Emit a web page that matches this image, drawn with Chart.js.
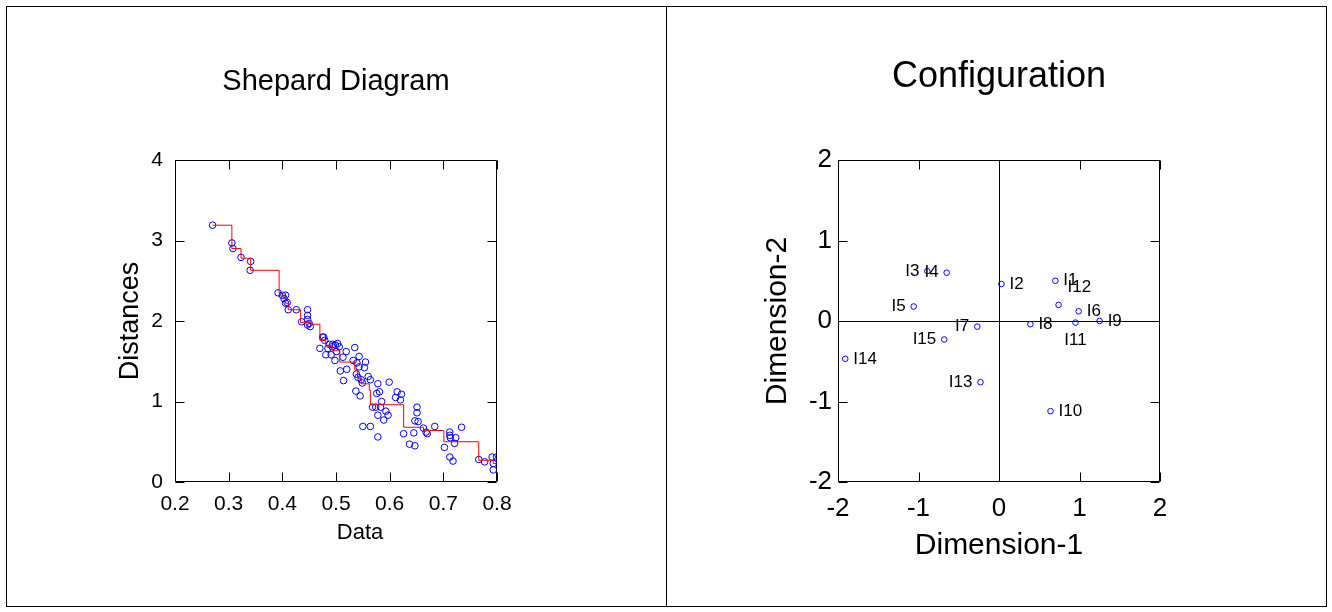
<!DOCTYPE html>
<html>
<head>
<meta charset="utf-8">
<script src="https://cdn.jsdelivr.net/npm/chart.js@4.4.1/dist/chart.umd.min.js"></script>
<style>
  html, body { margin: 0; padding: 0; background: #fff; }
  body { width: 1332px; height: 612px; position: relative; overflow: hidden; }
  canvas { position: absolute; top: 0; }
  #frame { position: absolute; left: 6px; top: 6px; width: 1321px; height: 601px; border: 1px solid #000; box-sizing: border-box; }
  #divider { position: absolute; left: 666px; top: 6px; width: 1px; height: 601px; background: #000; }
</style>
</head>
<body>
<canvas id="shepard" width="666" height="612" style="left:0"></canvas>
<canvas id="config" width="666" height="612" style="left:666px"></canvas>
<div id="frame"></div>
<div id="divider"></div>
<script>
// Shepard diagram: observed data vs. configuration distances
const shepardData = [
  0.270, 0.306, 0.308, 0.323, 0.340, 0.341, 0.392, 0.400, 0.403, 0.406,
  0.406, 0.409, 0.411, 0.426, 0.436, 0.447, 0.447, 0.447, 0.447, 0.450,
  0.452, 0.470, 0.475, 0.477, 0.479, 0.481, 0.485, 0.488, 0.491, 0.493,
  0.494, 0.499, 0.501, 0.498, 0.503, 0.506, 0.508, 0.513, 0.514, 0.519,
  0.520, 0.532, 0.535, 0.537, 0.538, 0.539, 0.541, 0.543, 0.543, 0.545,
  0.547, 0.549, 0.550, 0.553, 0.555, 0.560, 0.564, 0.564, 0.568, 0.574,
  0.576, 0.578, 0.578, 0.578, 0.581, 0.583, 0.585, 0.589, 0.593, 0.597,
  0.599, 0.611, 0.614, 0.620, 0.622, 0.626, 0.637, 0.645, 0.647, 0.647,
  0.651, 0.651, 0.653, 0.663, 0.668, 0.670, 0.684, 0.702, 0.712, 0.712,
  0.713, 0.712, 0.718, 0.721, 0.723, 0.734, 0.766, 0.777, 0.791, 0.793,
  0.799, 0.793
];
const shepardDist = [
  3.19, 2.97, 2.90, 2.79, 2.63, 2.74, 2.35, 2.32, 2.28, 2.32,
  2.22, 2.23, 2.14, 2.14, 1.99, 2.14, 2.07, 2.02, 1.95, 1.97,
  1.93, 1.66, 1.80, 1.80, 1.76, 1.58, 1.66, 1.71, 1.58, 1.68,
  1.71, 1.70, 1.62, 1.51, 1.72, 1.68, 1.38, 1.55, 1.26, 1.62,
  1.40, 1.51, 1.67, 1.13, 1.34, 1.48, 1.30, 1.56, 1.43, 1.07,
  1.27, 1.23, 0.69, 1.42, 1.49, 1.31, 1.27, 0.69, 0.93, 0.93,
  1.10, 1.22, 0.83, 0.56, 1.12, 0.93, 1.00, 0.77, 0.88, 0.83,
  1.24, 1.05, 1.12, 1.02, 1.09, 0.60, 0.47, 0.61, 0.45, 0.76,
  0.93, 0.86, 0.75, 0.67, 0.62, 0.60, 0.69, 0.43, 0.62, 0.58,
  0.55, 0.31, 0.26, 0.48, 0.55, 0.68, 0.28, 0.25, 0.31, 0.23,
  0.31, 0.15
];
// fitted (monotone) disparities, drawn as steps
const stepData = [0.270, 0.306, 0.323, 0.341, 0.394, 0.401, 0.406, 0.411, 0.434, 0.454, 0.470, 0.481, 0.494,
  0.507, 0.535, 0.540, 0.547, 0.562, 0.564, 0.626, 0.663, 0.701, 0.766, 0.793, 0.799];
const stepDist = [3.19, 2.90, 2.78, 2.63, 2.34, 2.31, 2.22, 2.14, 1.98, 1.96, 1.76, 1.69, 1.63,
  1.49, 1.39, 1.29, 1.22, 1.14, 0.96, 0.68, 0.64, 0.50, 0.27, 0.23, 0.23];
const shepardXTicks = [0.2, 0.3, 0.4, 0.5, 0.6, 0.7, 0.8];
const shepardYTicks = [0, 1, 2, 3, 4];

// Configuration: object coordinates
const objLabels = ['I1', 'I2', 'I3', 'I4', 'I5', 'I6', 'I7', 'I8', 'I9', 'I10', 'I11', 'I12', 'I13', 'I14', 'I15'];
const dim1 = [0.70, 0.03, -0.89, -0.65, -1.06, 0.99, -0.27, 0.39, 1.25, 0.64, 0.95, 0.74, -0.23, -1.91, -0.68];
const dim2 = [0.50, 0.46, 0.62, 0.60, 0.18, 0.12, -0.07, -0.04, 0.00, -1.12, -0.02, 0.20, -0.76, -0.47, -0.23];
const configTicks = [-2, -1, 0, 1, 2];

// where each object's name sits relative to its marker
const labelSide = ['right', 'right', 'left', 'left', 'left', 'right', 'left', 'right', 'right', 'right',
  'below', 'aboveRight', 'left', 'right', 'left'];

const FONT = '"Liberation Sans", Arial, Helvetica, sans-serif';
Chart.defaults.font.family = FONT;
Chart.defaults.color = '#000';

// box round the plot area with ticks pointing inwards on all four sides
const boxTicks = {
  id: 'boxTicks',
  beforeDatasetsDraw(chart) {
    const { ctx, chartArea: a, scales: { x, y } } = chart;
    const len = 9;
    const L = Math.round(a.left) + 0.5, R = Math.round(a.right) - 0.5;
    const T = Math.round(a.top) + 0.5, B = Math.round(a.bottom) - 0.5;
    ctx.save();
    ctx.strokeStyle = '#000';
    ctx.lineWidth = 1;
    ctx.beginPath();
    x.ticks.forEach(t => {
      const px = Math.round(x.getPixelForValue(t.value)) + 0.5;
      ctx.moveTo(px, B); ctx.lineTo(px, B - len);
      ctx.moveTo(px, T); ctx.lineTo(px, T + len);
    });
    y.ticks.forEach(t => {
      const py = Math.round(y.getPixelForValue(t.value)) + 0.5;
      ctx.moveTo(L, py); ctx.lineTo(L + len, py);
      ctx.moveTo(R, py); ctx.lineTo(R - len, py);
    });
    ctx.rect(L, T, R - L, B - T);
    ctx.stroke();
    ctx.restore();
  }
};

// the Shepard x title sits a little right of centre in the original
const shepardXTitle = {
  id: 'shepardXTitle',
  afterDraw(chart) {
    const { ctx, chartArea: a } = chart;
    ctx.save();
    ctx.font = '22px ' + FONT;
    ctx.fillStyle = '#000';
    ctx.textAlign = 'center';
    ctx.textBaseline = 'middle';
    ctx.fillText('Data', (a.left + a.right) / 2 + 24, a.bottom + 51);
    ctx.restore();
  }
};

const pointLabels = {
  id: 'pointLabels',
  afterDatasetsDraw(chart) {
    const ctx = chart.ctx;
    const meta = chart.getDatasetMeta(0);
    ctx.save();
    ctx.font = '17px ' + FONT;
    ctx.fillStyle = '#000';
    ctx.textBaseline = 'middle';
    meta.data.forEach((pt, i) => {
      let tx = pt.x, ty = pt.y;
      const side = labelSide[i];
      if (side === 'right') { ctx.textAlign = 'left'; tx += 8; }
      else if (side === 'left') { ctx.textAlign = 'right'; tx -= 8; }
      else if (side === 'below') { ctx.textAlign = 'center'; ty += 18; }
      else { ctx.textAlign = 'left'; tx += 9; ty -= 18; }
      ctx.fillText(objLabels[i], tx, ty);
    });
    ctx.restore();
  }
};

function fixedTicks(list) {
  return (s) => { s.ticks = list.map(v => ({ value: v })); };
}

new Chart(document.getElementById('shepard'), {
  type: 'scatter',
  data: {
    datasets: [
      {
        type: 'line',
        data: stepData.map((v, i) => ({ x: v, y: stepDist[i] })),
        stepped: true,
        borderColor: '#ff0000',
        borderWidth: 1,
        pointRadius: 0,
        fill: false
      },
      {
        data: shepardData.map((v, i) => ({ x: v, y: shepardDist[i] })),
        pointRadius: 3.3,
        pointBorderColor: '#0000ff',
        pointBackgroundColor: 'rgba(0,0,0,0)',
        pointBorderWidth: 1
      }
    ]
  },
  options: {
    responsive: false,
    animation: false,
    events: [],
    layout: { padding: { left: 95, right: 169, top: 0, bottom: 40 } },
    plugins: {
      legend: { display: false },
      tooltip: { enabled: false },
      title: {
        display: true, text: 'Shepard Diagram', fullSize: false, color: '#000',
        font: { size: 29, weight: 'normal' }, padding: { top: 64.6, bottom: 60.6 }
      }
    },
    scales: {
      x: {
        type: 'linear', min: 0.2, max: 0.8,
        afterBuildTicks: fixedTicks(shepardXTicks),
        afterFit: (s) => { s.height = 90; },
        grid: { display: false, drawTicks: false },
        border: { display: false },
        ticks: { font: { size: 21 }, color: '#000', padding: 10 },
        title: { display: false }
      },
      y: {
        type: 'linear', min: 0, max: 4,
        afterBuildTicks: fixedTicks(shepardYTicks),
        afterFit: (s) => { s.width = 80; },
        grid: { display: false, drawTicks: false },
        border: { display: false },
        ticks: { font: { size: 21 }, color: '#000', padding: 12 },
        title: { display: true, text: 'Distances', color: '#000', font: { size: 27 }, padding: { top: 19.8, bottom: 0 } }
      }
    }
  },
  plugins: [boxTicks, shepardXTitle]
});

const zeroLine = (c) => (c.tick && c.tick.value === 0 ? '#000' : 'rgba(0,0,0,0)');

new Chart(document.getElementById('config'), {
  type: 'scatter',
  data: {
    labels: objLabels,
    datasets: [{
      data: dim1.map((v, i) => ({ x: v, y: dim2[i] })),
      pointRadius: 2.8,
      pointBorderColor: '#0000ff',
      pointBackgroundColor: 'rgba(0,0,0,0)',
      pointBorderWidth: 1
    }]
  },
  options: {
    responsive: false,
    animation: false,
    events: [],
    layout: { padding: { left: 92, right: 172, top: 0, bottom: 30 } },
    plugins: {
      legend: { display: false },
      tooltip: { enabled: false },
      title: {
        display: true, text: 'Configuration', fullSize: false, color: '#000',
        font: { size: 36, weight: 'normal' }, padding: { top: 55.4, bottom: 61.4 }
      }
    },
    scales: {
      x: {
        type: 'linear', min: -2, max: 2,
        afterBuildTicks: fixedTicks(configTicks),
        afterFit: (s) => { s.height = 100; },
        grid: { color: zeroLine, drawTicks: false },
        border: { display: false },
        ticks: { font: { size: 26 }, color: '#000', padding: 11 },
        title: { display: true, text: 'Dimension-1', color: '#000', font: { size: 30 }, padding: { top: 0, bottom: 18 } }
      },
      y: {
        type: 'linear', min: -2, max: 2,
        afterBuildTicks: fixedTicks(configTicks),
        afterFit: (s) => { s.width = 80; },
        grid: { color: zeroLine, drawTicks: false },
        border: { display: false },
        ticks: { font: { size: 26 }, color: '#000', padding: 6 },
        title: { display: true, text: 'Dimension-2', color: '#000', font: { size: 30 }, padding: { top: 2, bottom: 0 } }
      }
    }
  },
  plugins: [boxTicks, pointLabels]
});
</script>
</body>
</html>
